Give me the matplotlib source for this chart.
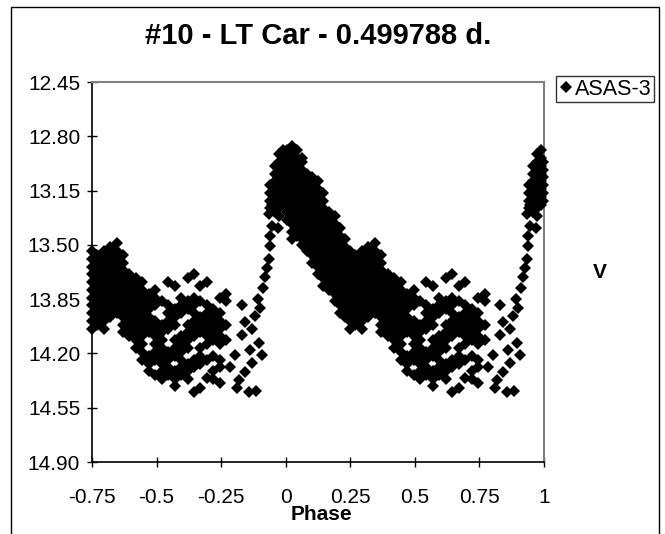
import numpy as np
import matplotlib
matplotlib.use("Agg")
import matplotlib.pyplot as plt
from matplotlib.patches import Rectangle

plt.rcParams["font.family"] = ["Liberation Sans", "DejaVu Sans"]

# ============================================================
# DATA
# ============================================================

TITLE = "#10 - LT Car - 0.499788 d."
SERIES = "ASAS-3"

x_ticks = [-0.75, -0.5, -0.25, 0, 0.25, 0.5, 0.75, 1]
x_labels = ["-0.75", "-0.5", "-0.25", "0", "0.25", "0.5", "0.75", "1"]
y_ticks = [12.45, 12.80, 13.15, 13.50, 13.85, 14.20, 14.55, 14.90]

# maximum, phase 0 - 0.07 (one list of V magnitudes per phase column)
peak_phase = [0.005, 0.024, 0.044, 0.063]
peak_mag = [
    [12.89, 12.94, 12.99, 13.04, 13.09, 13.14, 13.19, 13.24, 13.29, 13.34],
    [12.865, 12.915, 12.965, 13.015, 13.065, 13.115, 13.165, 13.215, 13.265,
     13.315, 13.365, 13.415, 13.465],
    [12.89, 12.94, 12.99, 13.04, 13.09, 13.14, 13.19, 13.24, 13.29, 13.34,
     13.39, 13.44],
    [12.94, 12.965, 13.015, 13.065, 13.115, 13.165, 13.215, 13.265, 13.315,
     13.365, 13.415, 13.465, 13.50],
]

# descending branch, phase 0.08 - 0.42
decline_phase = [0.082, 0.102, 0.124, 0.146, 0.168, 0.19, 0.212, 0.231,
                 0.25, 0.27, 0.295, 0.32, 0.345, 0.37, 0.395, 0.42]
decline_mag = [
    [13.04, 13.09, 13.14, 13.19, 13.24, 13.29, 13.34, 13.39, 13.44, 13.49, 13.54],
    [13.065, 13.115, 13.165, 13.215, 13.265, 13.315, 13.365, 13.415, 13.465,
     13.515, 13.565, 13.615],
    [13.09, 13.14, 13.19, 13.24, 13.29, 13.34, 13.39, 13.44, 13.49, 13.54,
     13.59, 13.64, 13.69],
    [13.165, 13.215, 13.265, 13.315, 13.365, 13.415, 13.465, 13.515, 13.565,
     13.615, 13.665, 13.715, 13.765],
    [13.29, 13.34, 13.39, 13.44, 13.49, 13.54, 13.59, 13.64, 13.69, 13.74, 13.79],
    [13.315, 13.365, 13.415, 13.465, 13.515, 13.565, 13.615, 13.665, 13.715,
     13.765, 13.815, 13.865],
    [13.39, 13.44, 13.49, 13.54, 13.59, 13.64, 13.69, 13.74, 13.79, 13.84,
     13.89, 13.94],
    [13.465, 13.515, 13.565, 13.615, 13.665, 13.715, 13.765, 13.815, 13.865,
     13.915, 13.965],
    [13.54, 13.59, 13.64, 13.69, 13.74, 13.79, 13.84, 13.89, 13.94, 13.99, 14.04],
    [13.565, 13.615, 13.665, 13.715, 13.765, 13.815, 13.865, 13.915, 13.965, 14.015],
    [13.54, 13.59, 13.64, 13.69, 13.74, 13.79, 13.84, 13.89, 13.94, 13.99, 14.04],
    [13.515, 13.565, 13.615, 13.665, 13.715, 13.765, 13.815, 13.865, 13.915, 13.965],
    [13.49, 13.54, 13.59, 13.64, 13.69, 13.74, 13.79, 13.84, 13.89, 13.94],
    [13.565, 13.615, 13.665, 13.715, 13.765, 13.815, 13.865, 13.915, 13.965,
     14.015, 14.065],
    [13.69, 13.74, 13.79, 13.84, 13.89, 13.94, 13.99, 14.04, 14.09],
    [13.715, 13.765, 13.815, 13.865, 13.915, 13.965, 14.015, 14.065, 14.115, 14.165],
]

# minimum, phase 0.44 - 0.77 (looser cloud with gaps)
minimum_phase = [0.445, 0.47, 0.495, 0.52, 0.545, 0.57, 0.595, 0.62, 0.645,
                 0.67, 0.695, 0.72, 0.745, 0.77]
minimum_mag = [
    [13.74, 13.79, 13.84, 13.89, 13.94, 13.99, 14.04, 14.09, 14.14, 14.19, 14.24],
    [13.815, 13.865, 13.915, 13.965, 14.015, 14.065, 14.215, 14.265, 14.315],
    [13.79, 13.84, 13.89, 13.99, 14.04, 14.09, 14.14, 14.19, 14.24, 14.34],
    [13.865, 14.015, 14.065, 14.115, 14.165, 14.215, 14.265, 14.315, 14.365],
    [13.74, 13.89, 13.94, 13.99, 14.04, 14.19, 14.24, 14.29, 14.34],
    [13.765, 13.915, 13.965, 14.015, 14.115, 14.165, 14.215, 14.315, 14.365,
     14.41],
    [13.84, 13.89, 13.94, 14.09, 14.14, 14.19, 14.24, 14.29, 14.34],
    [13.715, 13.865, 13.915, 14.015, 14.065, 14.115, 14.165, 14.265, 14.315,
     14.365],
    [13.69, 13.84, 13.89, 13.94, 13.99, 14.04, 14.09, 14.24, 14.29, 14.45],
    [13.765, 13.865, 13.965, 14.015, 14.065, 14.165, 14.215, 14.265, 14.42],
    [13.74, 13.89, 13.94, 13.99, 14.04, 14.09, 14.14, 14.24, 14.36],
    [13.915, 13.965, 14.015, 14.065, 14.115, 14.215, 14.315, 14.365],
    [13.84, 13.94, 13.99, 14.04, 14.09, 14.14, 14.24, 14.29, 14.39],
    [13.815, 13.865, 14.015, 14.115],
]

# scattered points before the rise, phase 0.78 - 0.91
late_phase = [0.783, 0.803, 0.81, 0.818, 0.83, 0.83, 0.842, 0.842, 0.857,
              0.861, 0.868, 0.868, 0.88, 0.884, 0.891, 0.895, 0.899, 0.907, 0.911]
late_mag = [14.29, 14.21, 14.42, 14.37, 13.89, 14.08, 14.00, 14.32, 14.45,
            14.18, 14.04, 14.26, 13.96, 14.44, 13.85, 14.13, 13.91, 14.21, 13.78]

# rising branch, phase 0.91 - 0.97
rise_phase = [0.919, 0.927, 0.935, 0.938, 0.938, 0.946, 0.969, 0.935, 0.946]
rise_mag = [13.71, 13.65, 13.59, 13.51, 13.44, 13.38, 13.39, 13.30, 13.24]

# back at maximum, phase 0.94 - 1.0
top_phase = [0.94, 0.957, 0.973, 0.99, 0.998]
top_mag = [
    [13.115, 13.165, 13.215, 13.265],
    [12.99, 13.04, 13.09, 13.14, 13.19, 13.24, 13.29],
    [12.915, 12.965, 13.015, 13.065, 13.115, 13.165, 13.215, 13.265, 13.315],
    [12.89, 12.94, 12.99, 13.04, 13.09, 13.14, 13.19, 13.24],
    [12.965, 13.015, 13.065, 13.115, 13.165, 13.215],
]


def expand(phases, mags):
    """Turn phase columns + magnitude lists into flat point lists."""
    ph, mg = [], []
    for p, col in zip(phases, mags):
        ph += [p] * len(col)
        mg += list(col)
    return ph, mg


# ============================================================
# ASSEMBLE THE FOLDED LIGHT CURVE
# ============================================================

phase, mag = [], []
for cols in [(peak_phase, peak_mag), (decline_phase, decline_mag),
             (minimum_phase, minimum_mag), (top_phase, top_mag)]:
    p, m = expand(*cols)
    phase += p
    mag += m
phase += late_phase + rise_phase
mag += late_mag + rise_mag

phase = np.array(phase)
mag = np.array(mag)

# the chart repeats phases 0.25 - 1 at phase - 1 to fill -0.75 .. 0
repeat = phase >= 0.25
x = np.concatenate([phase, phase[repeat] - 1])
y = np.concatenate([mag, mag[repeat]])

# ============================================================
# PLOT
# ============================================================

W, H = 665, 534
fig = plt.figure(figsize=(W / 100, H / 100), dpi=100)
ax = fig.add_axes([92 / W, 1 - 462 / H, 452 / W, 380 / H])

ax.plot(x, y, linestyle="none", marker="D", markersize=5.9,
        markerfacecolor="black", markeredgewidth=0, color="black",
        clip_on=False, label=SERIES, zorder=3)

ax.set_xlim(-0.75, 1)
ax.set_ylim(14.90, 12.45)
ax.set_xticks(x_ticks)
ax.set_xticklabels(x_labels)
ax.set_yticks(y_ticks)
ax.set_yticklabels([f"{v:.2f}" for v in y_ticks])

ax.tick_params(axis="both", direction="inout", length=7, width=1,
               labelsize=15, colors="black")
ax.tick_params(axis="x", pad=15)
ax.tick_params(axis="y", pad=5)

for side in ["left", "bottom"]:
    ax.spines[side].set_color("black")
    ax.spines[side].set_linewidth(1.2)
for side in ["top", "right"]:
    ax.spines[side].set_color("#808080")
    ax.spines[side].set_linewidth(1.5)

fig.text(318 / W, 1 - 36 / H, TITLE, ha="center", va="center",
         fontsize=21, fontweight="bold")
fig.text(321 / W, 1 - 515 / H, "Phase", ha="center", va="center",
         fontsize=15, fontweight="bold")
fig.text(600 / W, 1 - 272 / H, "V", ha="center", va="center",
         fontsize=15, fontweight="bold")

leg = ax.legend(loc="upper left", bbox_to_anchor=(556 / W, 1 - 76 / H),
                bbox_transform=fig.transFigure, frameon=True, fancybox=False,
                edgecolor="black", fontsize=15.5, handlelength=0.65,
                handletextpad=0.1, borderpad=0.12, borderaxespad=0)
leg.get_frame().set_linewidth(1)

# chart area border (bottom edge runs past the image)
fig.add_artist(Rectangle((10.5 / W, -0.1), (659 - 10.5) / W, 1.1 - 7 / H,
                         transform=fig.transFigure, fill=False,
                         edgecolor="black", linewidth=1))

fig.savefig("out.png", dpi=100)
